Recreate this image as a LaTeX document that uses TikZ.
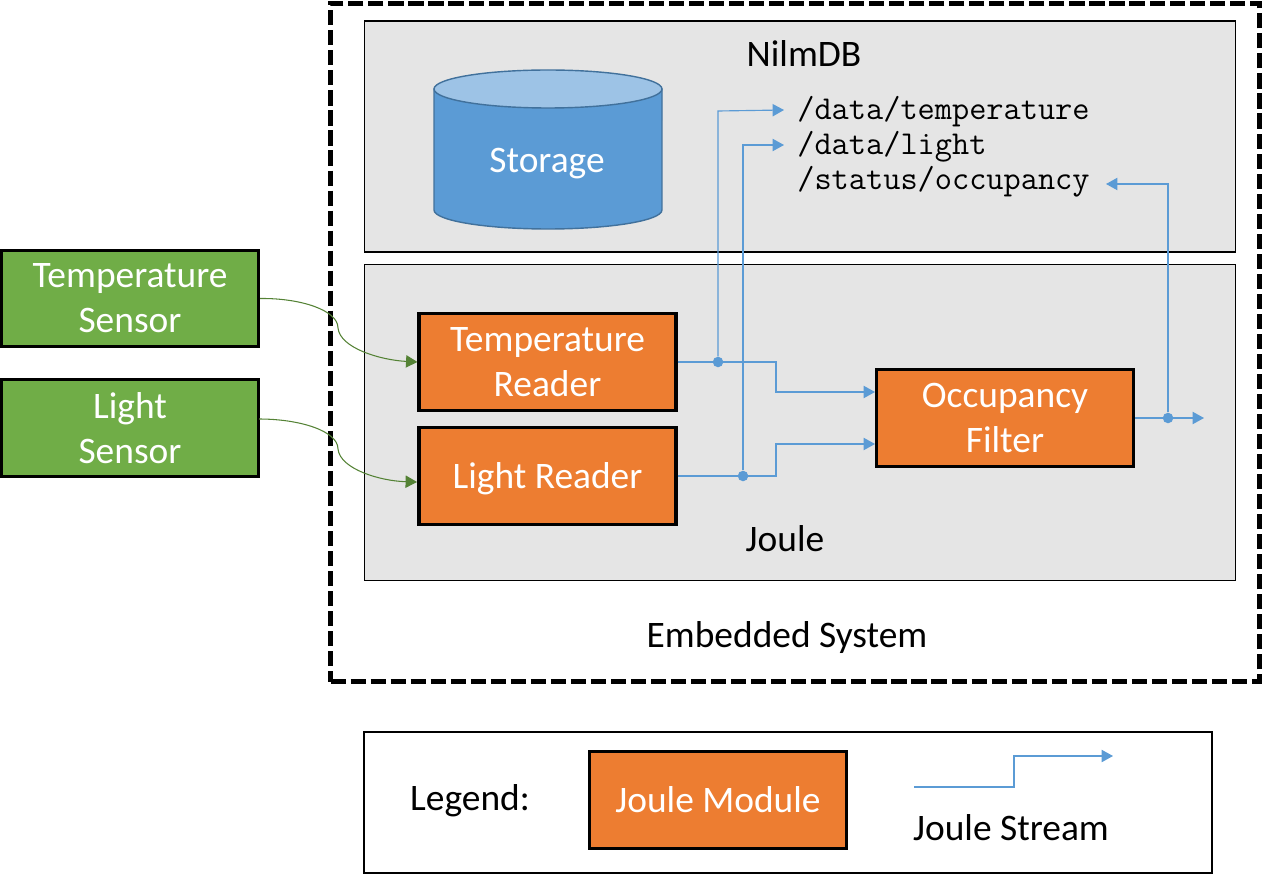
\documentclass[tikz,border=0pt]{standalone}
\usepackage{fontspec}
\setmainfont{Carlito}
\usetikzlibrary{arrows.meta}
\definecolor{streamblue}{HTML}{5B9BD5}
\definecolor{sensorgreen}{HTML}{70AD47}
\definecolor{wiregreen}{HTML}{548235}
\definecolor{moduleorange}{HTML}{ED7D31}
\definecolor{regiongray}{HTML}{E5E5E5}
\definecolor{cylinderedge}{HTML}{41719C}
\definecolor{cylindertop}{HTML}{9DC3E6}
\tikzset{
	labeltext/.style = {inner sep=0pt, font=\fontsize{21.3}{25.6}\selectfont, align=center},
	pathtext/.style = {inner sep=0pt, anchor=west, font=\fontsize{19}{22}\selectfont\ttfamily},
	sensorbox/.style = {labeltext, draw=black, line width=1.8pt, fill=sensorgreen, text=white, minimum width=5.14cm, minimum height=1.93cm},
	modulebox/.style = {labeltext, draw=black, line width=1.8pt, fill=moduleorange, text=white, minimum width=5.14cm, minimum height=1.93cm},
	regionbox/.style = {draw=black, line width=.6pt, fill=regiongray, inner sep=0pt},
	stream/.style = {draw=streamblue, line width=.65pt, -{Triangle[length=6.5pt,width=7pt]}},
	wire/.style = {draw=wiregreen, line width=.6pt, -{Triangle[length=6.5pt,width=7pt]}},
	joint/.style = {circle, fill=streamblue, inner sep=0pt, minimum size=6pt}
}
\begin{document}
\begin{tikzpicture}[x=.02cm, y=-.02cm]
	\useasboundingbox (0,0) rectangle (1263,874);
	% regions
	\node[draw=black, line width=2.9pt, dash pattern=on 8.6pt off 2.8pt, inner sep=0pt, minimum width=18.58cm, minimum height=13.58cm] (embedded) at (795,342.5) {};
	\node[regionbox, minimum width=17.44cm, minimum height=4.62cm] (nilmdb) at (800,136.5) {};
	\node[regionbox, minimum width=17.44cm, minimum height=6.34cm] (joule) at (800,422.5) {};
	\node[draw=black, line width=1.4pt, inner sep=0pt, minimum width=16.96cm, minimum height=2.82cm] (legend) at (788,802.5) {};
	% storage
	\draw[draw=cylinderedge, line width=.8pt, fill=streamblue] (434,89) -- (434,210) arc[x radius=2.28cm, y radius=.38cm, start angle=180, end angle=360] -- (662,89) -- cycle;
	\draw[draw=cylinderedge, line width=.8pt, fill=cylindertop] (548,89) ellipse[x radius=2.28cm, y radius=.38cm];
	\node[labeltext, text=white] (storagetext) at (547,164) {Storage};
	% texts
	\node[labeltext] (nilmdbtext) at (804,54) {NilmDB};
	\node[labeltext] (jouletext) at (785,539) {Joule};
	\node[labeltext] (embeddedtext) at (787,638) {Embedded System};
	\node[labeltext] (legendtext) at (470,801) {Legend:};
	\node[labeltext] (streamtext) at (1011,828) {Joule Stream};
	\node[pathtext] (temppath) at (797,112) {/data/temperature};
	\node[pathtext] (lightpath) at (797,147) {/data/light};
	\node[pathtext] (statuspath) at (797,182) {/status/occupancy};
	% boxes
	\node[sensorbox] (tempsensor) at (130,298.5) {Temperature\\Sensor};
	\node[sensorbox] (lightsensor) at (130,428) {Light\\Sensor};
	\node[modulebox] (tempreader) at (547.5,362) {Temperature\\Reader};
	\node[modulebox, text depth=0pt] (lightreader) at (547.5,476) {Light Reader};
	\node[modulebox] (occupancy) at (1005,418) {Occupancy\\Filter};
	\node[modulebox] (module) at (718,800) {Joule Module};
	% joints
	\node[joint] (tempjoint) at (718,362) {};
	\node[joint] (lightjoint) at (743,476) {};
	\node[joint] (occjoint) at (1168,418) {};
	% free ends
	\coordinate (tempin) at (875,392);
	\coordinate (lightin) at (875,444);
	\coordinate (tempto) at (784,110);
	\coordinate (lightto) at (784,145);
	\coordinate (statusto) at (1106,184);
	\coordinate (occto) at (1204,418);
	\coordinate (legendfrom) at (914,787);
	\coordinate (legendto) at (1113,756);
	\coordinate (lightout) at (259,419);
	\coordinate (lightend) at (417,482);
	% sensor wires
	\draw[wire] (tempsensor.east) .. controls (300,298) and (338,310) .. (338,328) .. controls (340,348) and (380,360) .. (tempreader.west);
	\draw[wire] (lightout) .. controls (300,419) and (338,431) .. (338,449) .. controls (340,469) and (380,481) .. (lightend);
	% streams
	\draw[stream] (tempreader.east) -- (776,362) -- (776,392) -- (tempin);
	\draw[stream] (lightreader.east) -- (776,476) -- (776,444) -- (lightin);
	\draw[stream] (tempjoint) -- (718,111) -- (tempto);
	\draw[stream] (lightjoint) -- (743,145) -- (lightto);
	\draw[stream] (occupancy.east) -- (occto);
	\draw[stream] (occjoint) -- (1168,184) -- (statusto);
	\draw[stream] (legendfrom) -- (1014,787) -- (1014,756) -- (legendto);
\end{tikzpicture}
\end{document}
